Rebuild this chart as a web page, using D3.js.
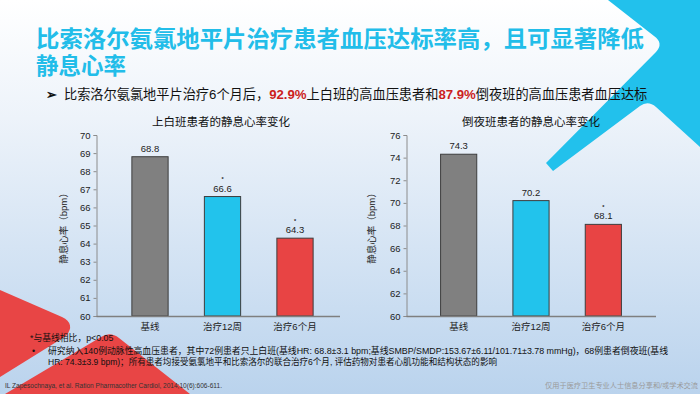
<!DOCTYPE html>
<html><head><meta charset="utf-8">
<script src="https://cdn.jsdelivr.net/npm/d3@7/dist/d3.min.js"></script>
<style>
html,body{margin:0;padding:0;background:#fff;}
svg{display:block;}
text{font-family:"Liberation Sans",Arial,"Noto Sans CJK SC",sans-serif;}
</style></head>
<body>
<svg id="c" width="700" height="394"></svg>
<script>
// ---- data ----
const categories = ["基线", "治疗12周", "治疗6个月"];
const dayValues = [68.8, 66.6, 64.3];
const nightValues = [74.3, 70.2, 68.1];
const daySignificant = [false, true, true];
const nightSignificant = [false, false, true];
const dayTicks = [60, 61, 62, 63, 64, 65, 66, 67, 68, 69, 70];
const nightTicks = [60, 62, 64, 66, 68, 70, 72, 74, 76];
const barColors = ["#808080", "#22c3ec", "#e84444"];
const chartTitles = ["上白班患者的静息心率变化", "倒夜班患者的静息心率变化"];
const yLabel = "静息心率（bpm）";

const svg = d3.select("#c");
const defs = svg.append("defs");
const grad = defs.append("linearGradient").attr("id", "bg").attr("x1", 0).attr("y1", 0).attr("x2", 0).attr("y2", 1);
grad.append("stop").attr("offset", "0%").attr("stop-color", "#ffffff");
grad.append("stop").attr("offset", "30%").attr("stop-color", "#edf3fa");
grad.append("stop").attr("offset", "100%").attr("stop-color", "#bad3ed");
svg.append("rect").attr("width", 700).attr("height", 394).attr("fill", "url(#bg)");

// decorative shapes
svg.append("path").attr("fill", "#e84545")
  .attr("d", "M0,290 L62,317 Q76,324 66,336 L0,377 Z");
svg.append("path").attr("fill", "#e84545")
  .attr("d", "M5,394 L101,337 Q110,331 119,338 L190,394 Z");
svg.append("path").attr("fill", "#22c1ec")
  .attr("d", "M608,0 L700,0 L700,147 L656,107 Q648,100 640,106 L553,171 L546,163 L656,52 Q664,43 654,36 Z");

// title
const titleLines = ["比索洛尔氨氯地平片治疗患者血压达标率高，且可显著降低", "静息心率"];
const titleWidths = [608, 90];
titleLines.forEach((t, i) => {
  svg.append("text").attr("x", 36).attr("y", 47 + i * 27).attr("fill", "#22bde9")
    .style("font-family", "'Liberation Sans','Noto Sans CJK SC',sans-serif")
    .style("font-weight", "bold").style("font-size", "22.5px")
    .attr("textLength", titleWidths[i]).attr("lengthAdjust", "spacingAndGlyphs").text(t);
});

// subtitle
svg.append("text").attr("x", 46).attr("y", 99).style("font-size", "13px").style("font-weight", "bold").attr("fill", "#111").text("➢");
const sub = svg.append("text").attr("x", 64).attr("y", 99).style("font-size", "13.2px").attr("fill", "#111");
sub.append("tspan").text("比索洛尔氨氯地平片治疗6个月后，");
sub.append("tspan").attr("fill", "#cc1e1e").style("font-weight", "bold").text("92.9%");
sub.append("tspan").text("上白班的高血压患者和");
sub.append("tspan").attr("fill", "#cc1e1e").style("font-weight", "bold").text("87.9%");
sub.append("tspan").text("倒夜班的高血压患者血压达标");

function drawChart(cfg) {
  const g = svg.append("g");
  const y = d3.scaleLinear().domain([cfg.ticks[0], cfg.ticks[cfg.ticks.length - 1]]).range([316, 135]);
  const x = d3.scaleBand().domain(categories).range(cfg.xr).paddingInner(0.5).paddingOuter(0.25);

  const ya = g.append("g").attr("transform", `translate(${cfg.ax},0)`)
    .call(d3.axisLeft(y).tickValues(cfg.ticks).tickSize(3).tickPadding(3).tickFormat(d3.format("d")));
  ya.select(".domain").attr("stroke", "#8c8c8c");
  ya.selectAll(".tick line").attr("stroke", "#8c8c8c");
  ya.selectAll("text").style("font-size", "9.5px").attr("fill", "#222");

  g.selectAll("rect.bar").data(cfg.values).join("rect").attr("class", "bar")
    .attr("x", (d, i) => x(categories[i])).attr("width", x.bandwidth())
    .attr("y", d => y(d)).attr("height", d => y(cfg.ticks[0]) - y(d))
    .attr("fill", (d, i) => barColors[i]).attr("stroke", "#3d3d3d").attr("stroke-width", 1);

  g.append("line").attr("x1", cfg.ax).attr("x2", cfg.axEnd).attr("y1", y(cfg.ticks[0]) + 0.5).attr("y2", y(cfg.ticks[0]) + 0.5)
    .attr("stroke", "#7f7f7f").attr("stroke-width", 1.5);

  g.selectAll("text.val").data(cfg.values).join("text").attr("class", "val")
    .attr("x", (d, i) => x(categories[i]) + x.bandwidth() / 2).attr("y", d => y(d) - 5)
    .attr("text-anchor", "middle").style("font-size", "9.5px").attr("fill", "#222").text(d => d.toFixed(1));
  const sigIdx = categories.map((c, i) => i).filter(i => cfg.sig[i]);
  g.selectAll("text.sig").data(sigIdx).join("text").attr("class", "sig")
    .attr("x", i => x(categories[i]) + x.bandwidth() / 2).attr("y", i => y(cfg.values[i]) - 15.5)
    .attr("text-anchor", "middle").style("font-size", "5.5px").style("font-weight", "bold").attr("fill", "#222").text("*");

  g.selectAll("text.cat").data(categories).join("text").attr("class", "cat")
    .attr("x", d => x(d) + x.bandwidth() / 2).attr("y", 330)
    .attr("text-anchor", "middle").style("font-size", "9.5px").attr("fill", "#222").text(d => d);

  g.append("text").attr("transform", `translate(${cfg.lx},226) rotate(-90)`).attr("text-anchor", "middle")
    .attr("dy", "0.35em").style("font-size", "9.5px").attr("fill", "#222").text(yLabel);

  g.append("text").attr("x", cfg.tx).attr("y", 126).attr("text-anchor", "middle")
    .style("font-size", "11.5px").attr("fill", "#111").text(cfg.title);
}

drawChart({values: dayValues, sig: daySignificant, ticks: dayTicks, xr: [113.75, 331.25], ax: 96.5, axEnd: 340, lx: 64, tx: 221, title: chartTitles[0]});
drawChart({values: nightValues, sig: nightSignificant, ticks: nightTicks, xr: [422.5, 639.5], ax: 406.5, axEnd: 656, lx: 372, tx: 531, title: chartTitles[1]});

// footnotes
svg.append("text").attr("x", 30).attr("y", 341).style("font-size", "8.8px").attr("fill", "#111").text("*与基线相比，p<0.05");
svg.append("text").attr("x", 32).attr("y", 354).style("font-size", "8.8px").attr("fill", "#111").text("•");
svg.append("text").attr("x", 48).attr("y", 354).style("font-size", "8.8px").attr("fill", "#111")
  .attr("textLength", 620).attr("lengthAdjust", "spacingAndGlyphs")
  .text("研究纳入140例动脉性高血压患者，其中72例患者只上白班(基线HR: 68.8±3.1 bpm;基线SMBP/SMDP:153.67±6.11/101.71±3.78 mmHg)，68例患者倒夜班(基线");
svg.append("text").attr("x", 48).attr("y", 365).style("font-size", "8.8px").attr("fill", "#111")
  .attr("textLength", 449).attr("lengthAdjust", "spacingAndGlyphs")
  .text("HR: 74.3±3.9 bpm)；所有患者均接受氨氯地平和比索洛尔的联合治疗6个月, 评估药物对患者心肌功能和结构状态的影响");
svg.append("text").attr("x", 5).attr("y", 388).style("font-size", "6.5px").attr("fill", "#333")
  .attr("textLength", 217).attr("lengthAdjust", "spacingAndGlyphs")
  .text("IL Zapesochnaya, et al. Ration Pharmacother Cardiol, 2014;10(6):606-611.");
svg.append("text").attr("x", 698).attr("y", 388).attr("text-anchor", "end").style("font-size", "7.2px").attr("fill", "#9a9a9a")
  .text("仅用于医疗卫生专业人士信息分享和/或学术交流");
</script>
</body></html>
